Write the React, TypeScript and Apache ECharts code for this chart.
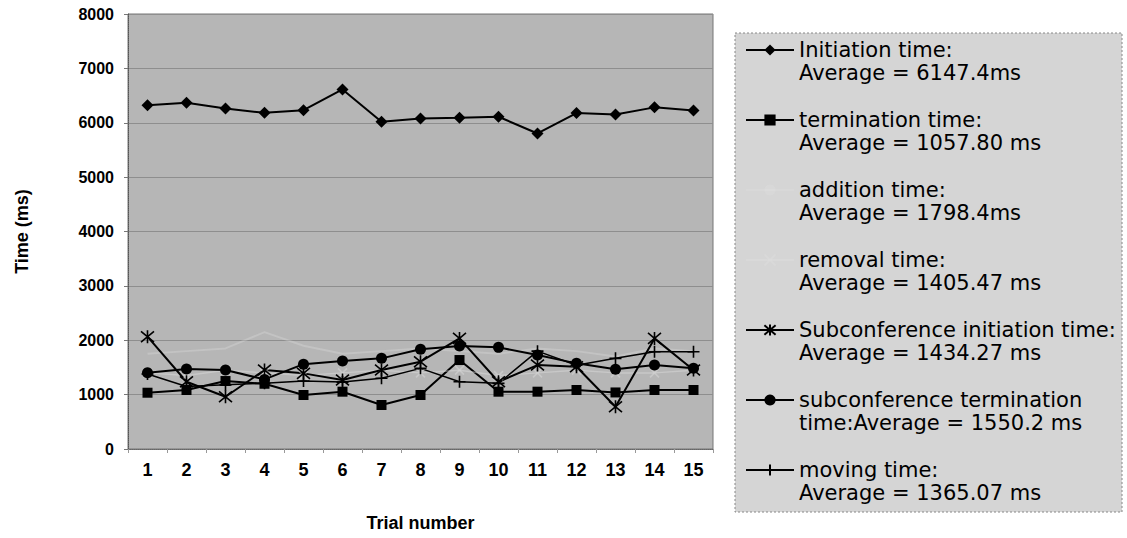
import React, { useEffect, useRef } from "react";
import * as echarts from "echarts";

const categories = ["1", "2", "3", "4", "5", "6", "7", "8", "9", "10", "11", "12", "13", "14", "15"];
const initiation = [6324, 6366, 6262, 6182, 6232, 6612, 6017, 6079, 6092, 6110, 5803, 6178, 6151, 6283, 6226];
const termination = [1035, 1085, 1250, 1200, 993, 1054, 809, 993, 1636, 1054, 1054, 1085, 1040, 1085, 1085];
const addition = [1750, 1800, 1850, 2150, 1900, 1750, 1800, 1850, 1800, 1750, 1850, 1800, 1700, 1850, 1800];
const removal = [1400, 1350, 1450, 1400, 1350, 1400, 1450, 1400, 1450, 1350, 1400, 1450, 1400, 1400, 1450];
const subInitiation = [2065, 1237, 961, 1452, 1391, 1268, 1452, 1605, 2034, 1237, 1544, 1513, 778, 2034, 1452];
const subTermination = [1403, 1470, 1452, 1280, 1560, 1618, 1667, 1833, 1893, 1869, 1728, 1575, 1465, 1544, 1483];
const moving = [1380, 1150, 1180, 1210, 1250, 1230, 1300, 1483, 1237, 1207, 1800, 1540, 1667, 1789, 1789];

const seriesNames = [
  "Initiation time:\nAverage = 6147.4ms",
  "termination time:\nAverage = 1057.80 ms",
  "addition time:\nAverage = 1798.4ms",
  "removal time:\nAverage = 1405.47 ms",
  "Subconference initiation time:\nAverage = 1434.27 ms",
  "subconference termination\ntime:Average = 1550.2 ms",
  "moving time:\nAverage = 1365.07 ms",
];

const STAR = "path://M0,0L10,10M10,0L0,10M5,-1L5,11";
const PLUS = "path://M5,0L5,10M0,5L10,5";
const CROSS = "path://M0,0L10,10M10,0L0,10";

export default function App() {
  const ref = useRef<HTMLDivElement>(null);
  useEffect(() => {
    if (!ref.current) return;
    const chart = echarts.init(ref.current, null, { renderer: "svg" });
    const axisFont = "'Liberation Sans', Arial, sans-serif";
    const mk = (
      name: string,
      data: number[],
      color: string,
      symbol: string,
      symbolSize: number,
      width: number,
      stroke: boolean
    ) => ({
      type: "line",
      name,
      data,
      symbol,
      symbolSize,
      showSymbol: symbol !== "none",
      lineStyle: { color, width },
      itemStyle: { color, borderColor: color, borderWidth: stroke ? 1.6 : 0 },
      emphasis: { disabled: true },
      silent: true,
    });
    const LH = 23;
    chart.setOption({
      animation: false,
      grid: {
        left: 128,
        right: 414,
        top: 14,
        bottom: 89,
        show: true,
        backgroundColor: "#b6b6b6",
        borderColor: "#777",
        borderWidth: 1,
      },
      graphic: [
        {
          type: "rect",
          z: -10,
          shape: { x: 735, y: 33, width: 387, height: 479 },
          style: { fill: "#d5d5d5", stroke: "#888", lineWidth: 1, lineDash: [2, 2] },
        },
      ],
      legend: {
        orient: "vertical",
        left: 745,
        top: 50 - LH * 1.5,
        padding: 0,
        itemWidth: 48,
        itemHeight: 14,
        itemGap: 70 - LH * 3,
        data: seriesNames,
        formatter: (name: string) => " \n" + name,
        textStyle: {
          fontFamily: "'DejaVu Sans', Verdana, sans-serif",
          fontSize: 21,
          lineHeight: LH,
          color: "#000",
        },
      },
      xAxis: {
        type: "category",
        data: categories,
        boundaryGap: true,
        axisLine: { show: true, lineStyle: { color: "#666", type: "dotted" } },
        axisTick: { show: true, length: 4, lineStyle: { color: "#999" } },
        axisLabel: { color: "#000", fontWeight: "bold", fontSize: 18, fontFamily: axisFont, margin: 12 },
        name: "Trial number",
        nameLocation: "middle",
        nameGap: 65,
        nameTextStyle: { color: "#000", fontWeight: "bold", fontSize: 18, fontFamily: axisFont },
      },
      yAxis: {
        type: "value",
        min: 0,
        max: 8000,
        interval: 1000,
        axisLine: { show: true, lineStyle: { color: "#555", type: "dotted" } },
        axisTick: { show: true, length: 4, lineStyle: { color: "#777" } },
        splitLine: { show: true, lineStyle: { color: "#8e8e8e", width: 1 } },
        axisLabel: {
          color: "#000",
          fontWeight: "bold",
          fontSize: 16,
          fontFamily: axisFont,
          margin: 14,
          formatter: (v: number) => String(v),
        },
        name: "Time (ms)",
        nameLocation: "middle",
        nameGap: 97,
        nameRotate: 90,
        nameTextStyle: { color: "#000", fontWeight: "bold", fontSize: 18, fontFamily: axisFont },
      },
      series: [
        mk(seriesNames[0], initiation, "#000", "diamond", 12, 2, false),
        mk(seriesNames[1], termination, "#000", "rect", 10, 2, false),
        mk(seriesNames[2], addition, "rgba(225,225,225,0.3)", "none", 6, 2, false),
        mk(seriesNames[3], removal, "rgba(222,222,222,0.45)", CROSS, 9, 1.5, true),
        mk(seriesNames[4], subInitiation, "#000", STAR, 13, 2, true),
        mk(seriesNames[5], subTermination, "#000", "circle", 11, 2, false),
        mk(seriesNames[6], moving, "#000", PLUS, 12, 1.5, true),
      ],
    });
    return () => chart.dispose();
  }, []);
  return (
    <div
      ref={ref}
      style={{ position: "fixed", left: 0, top: 0, width: 1127, height: 538, background: "#fff" }}
    />
  );
}
